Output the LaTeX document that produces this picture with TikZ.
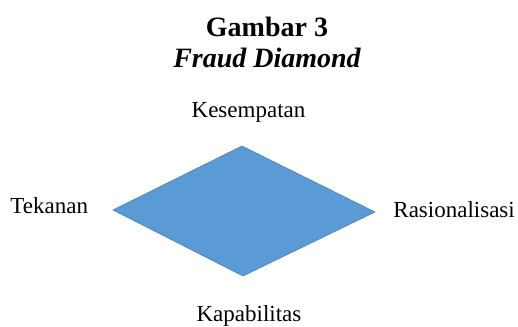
\documentclass[tikz,border=0pt]{standalone}
\usepackage{fontspec}
\setmainfont{Liberation Serif}
\usetikzlibrary{positioning}
\definecolor{fdblue}{HTML}{5B9BD5}
\definecolor{fdedge}{HTML}{4A7FB5}
\begin{document}
\begin{tikzpicture}[x=0.5pt,y=-0.5pt,
    lbl/.style={font=\fontsize{11.5}{13}\selectfont,inner sep=0pt,anchor=base},
    ttl/.style={font=\fontsize{14}{16}\selectfont\bfseries,inner sep=0pt,anchor=base},
    fd/.style={fill=fdblue,draw=fdedge,line width=0.3pt}]
  \useasboundingbox (0,0) rectangle (518,326);
  % the four corners of the diamond
  \coordinate (top) at (242,146);
  \coordinate (rgt) at (375,212);
  \coordinate (bot) at (243,276);
  \coordinate (lft) at (113,210);
  \draw[fd] (top) -- (rgt) -- (bot) -- (lft) -- cycle;
  % title
  \node[ttl] (title) at (267,37) {Gambar 3};
  \node[ttl,font=\fontsize{14}{16}\selectfont\bfseries\itshape] (sub) at (267,68) {Fraud Diamond};
  % the four elements
  \node[lbl] (kes) at (248.5,117) {Kesempatan};
  \node[lbl,anchor=base west] (tek) at (10,213) {Tekanan};
  \node[lbl,anchor=base west] (ras) at (393,217) {Rasionalisasi};
  \node[lbl] (kap) at (249,321) {Kapabilitas};
\end{tikzpicture}
\end{document}
